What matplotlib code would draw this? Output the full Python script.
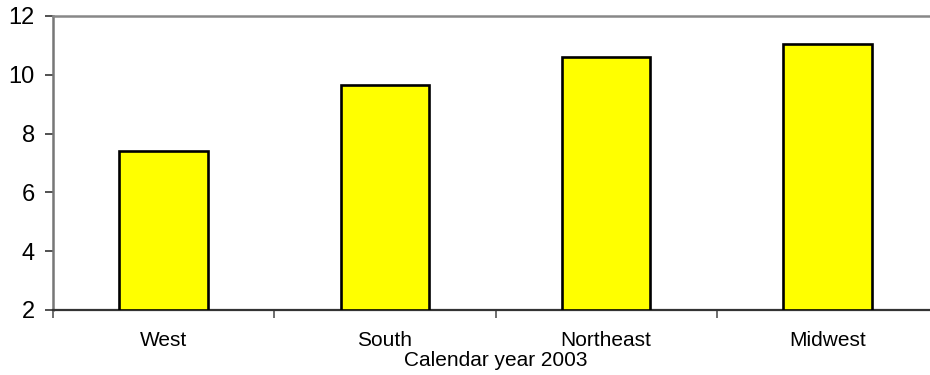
import matplotlib
matplotlib.use("Agg")
import matplotlib.pyplot as plt
import numpy as np

regions = ["West", "South", "Northeast", "Midwest"]
values = [7.42, 9.65, 10.6, 11.04]
y_ticks = [2, 4, 6, 8, 10, 12]
x_title = "Calendar year 2003"

plt.rcParams["font.family"] = ["Liberation Sans", "DejaVu Sans"]

fig = plt.figure(figsize=(9.3, 3.75), dpi=100)
ax = fig.add_axes([53 / 930, 65 / 375, 885 / 930, 294 / 375])

x = np.arange(len(regions))
ax.bar(x, [v - y_ticks[0] for v in values], bottom=y_ticks[0], width=0.4,
       color="#FFFF00", edgecolor="black", linewidth=1.9, zorder=3)

ax.set_xlim(-0.5, len(regions) - 0.5)
ax.set_ylim(y_ticks[0], y_ticks[-1])
ax.set_yticks(y_ticks)
ax.set_xticks(x)
ax.set_xticklabels(regions, fontsize=15)
ax.set_xticks(np.arange(len(regions) + 1) - 0.5, minor=True)
ax.tick_params(axis="x", which="major", length=0, pad=15)
ax.tick_params(axis="x", which="minor", length=6, width=1.2, color="#555555")
ax.tick_params(axis="y", length=6, width=1.2, color="#333333", pad=7, labelsize=17)

ax.set_xlabel(x_title, fontsize=15, labelpad=1)

ax.spines["left"].set_color("#777777")
ax.spines["left"].set_linewidth(1.8)
ax.spines["top"].set_color("#888888")
ax.spines["top"].set_linewidth(1.8)
ax.spines["bottom"].set_color("#333333")
ax.spines["bottom"].set_linewidth(1.6)
ax.spines["right"].set_visible(False)

fig.savefig("out.png", dpi=100)
